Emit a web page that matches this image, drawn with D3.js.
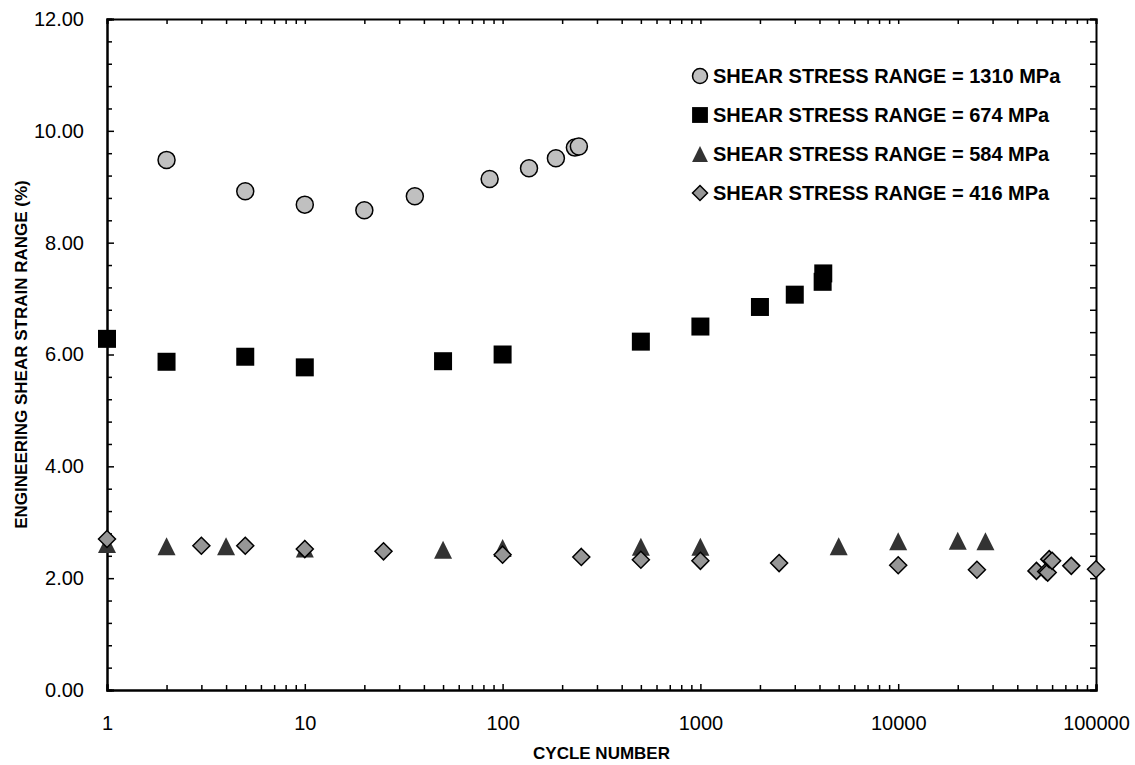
<!DOCTYPE html>
<html>
<head>
<meta charset="utf-8">
<script src="https://cdn.jsdelivr.net/npm/d3@7"></script>
<style>
  body { margin: 0; background: #fff; }
  text { font-family: "Liberation Sans", Arial, sans-serif; }
</style>
</head>
<body>
<svg id="chart"></svg>
<script>
// data: [cycle number, shear strain range %]
const series1310 = [
  [2, 9.48], [5, 8.92], [10, 8.68], [20, 8.58], [36, 8.83], [86, 9.14],
  [136, 9.33], [186, 9.51], [232, 9.70], [243, 9.72]
];
const series674 = [
  [1, 6.28], [2, 5.87], [5, 5.96], [10, 5.77], [50, 5.88], [100, 6.00],
  [500, 6.23], [1000, 6.50], [2000, 6.85], [3000, 7.07], [4150, 7.30], [4180, 7.45]
];
const series584 = [
  [1, 2.61], [2, 2.57], [4, 2.57], [10, 2.53], [50, 2.51], [100, 2.54],
  [500, 2.56], [1000, 2.56], [5000, 2.57], [10000, 2.66], [20000, 2.67], [27600, 2.66]
];
const series416 = [
  [1, 2.70], [3, 2.58], [5, 2.58], [10, 2.52], [25, 2.48], [100, 2.42],
  [250, 2.38], [500, 2.33], [1000, 2.31], [2500, 2.27], [10000, 2.23],
  [25000, 2.15], [50000, 2.13], [56000, 2.12], [57000, 2.10], [58000, 2.34],
  [60000, 2.31], [75000, 2.22], [100000, 2.16]
];
const legendLabels = [
  "SHEAR STRESS RANGE = 1310 MPa",
  "SHEAR STRESS RANGE = 674 MPa",
  "SHEAR STRESS RANGE = 584 MPa",
  "SHEAR STRESS RANGE = 416 MPa"
];
const xTicks = [1, 10, 100, 1000, 10000, 100000];
const yTicks = [0, 2, 4, 6, 8, 10, 12];

const W = 1135, H = 765;
const margin = { top: 19, right: 39, bottom: 75, left: 107 };
const width = W - margin.left - margin.right;
const height = H - margin.top - margin.bottom;

const svg = d3.select("#chart").attr("width", W).attr("height", H);
const g = svg.append("g").attr("transform", `translate(${margin.left},${margin.top})`);

const x = d3.scaleLog().domain([1, 100000]).range([0, width]);
const y = d3.scaleLinear().domain([0, 12]).range([height, 0]);

// minor tick values
const xMinor = [];
for (let p = 1; p < 100000; p *= 10) {
  for (let k = 2; k <= 9; k++) xMinor.push(p * k);
}
const yMinor = d3.range(0, 12.001, 0.4).filter((v) => Math.abs(v / 2 - Math.round(v / 2)) > 0.01);

// axes (ticks pointing inward)
const axisBottom = d3.axisBottom(x).tickValues(xTicks).tickSize(-6).tickPadding(26).tickFormat(d3.format("d"));
const axisBottomMinor = d3.axisBottom(x).tickValues(xMinor).tickSize(-5).tickFormat("");
const axisTop = d3.axisTop(x).tickValues(xTicks.concat(xMinor)).tickSize(-5).tickFormat("");
const axisLeft = d3.axisLeft(y).tickValues(yTicks).tickSize(-7).tickPadding(23).tickFormat(d3.format(".2f"));
const axisLeftMinor = d3.axisLeft(y).tickValues(yMinor).tickSize(-5).tickFormat("");
const axisRight = d3.axisRight(y).tickValues(d3.range(0, 12.001, 0.4)).tickSize(-6).tickFormat("");

function styleAxis(sel) {
  sel.select(".domain").attr("stroke", "#000").attr("stroke-width", 2);
  sel.selectAll(".tick line").attr("stroke", "#000").attr("stroke-width", 1.5);
  sel.selectAll(".tick text").attr("fill", "#000").style("font-size", "20px");
}

g.append("g").attr("transform", `translate(0,${height})`).call(axisBottomMinor).call(styleAxis);
g.append("g").attr("transform", `translate(0,${height})`).call(axisBottom).call(styleAxis);
g.append("g").call(axisTop).call(styleAxis);
g.append("g").call(axisLeftMinor).call(styleAxis);
g.append("g").call(axisLeft).call(styleAxis);
g.append("g").attr("transform", `translate(${width},0)`).call(axisRight).call(styleAxis);

// axis titles
svg.append("text")
  .attr("x", margin.left + width / 2)
  .attr("y", 759)
  .attr("text-anchor", "middle")
  .style("font-size", "17px")
  .style("font-weight", "bold")
  .text("CYCLE NUMBER");

svg.append("text")
  .attr("transform", `translate(27,${margin.top + height / 2}) rotate(-90)`)
  .attr("text-anchor", "middle")
  .style("font-size", "17px")
  .style("font-weight", "bold")
  .text("ENGINEERING SHEAR STRAIN RANGE (%)");

// marker shapes
const shapes = {
  circle: (r) => `M${r},0A${r},${r} 0 1,1 ${-r},0A${r},${r} 0 1,1 ${r},0Z`,
  square: (r) => `M${-r},${-r}H${r}V${r}H${-r}Z`,
  triangle: (r) => `M0,${-r}L${r},${r}H${-r}Z`,
  diamond: (r) => `M0,${-r}L${r},0L0,${r}L${-r},0Z`
};

const styles = [
  { data: series1310, shape: "circle", r: 8.5, fill: "#c0c0c0", stroke: "#000", sw: 1.5 },
  { data: series674, shape: "square", r: 9, fill: "#000", stroke: "none", sw: 0 },
  { data: series584, shape: "triangle", r: 9, fill: "#333333", stroke: "none", sw: 0 },
  { data: series416, shape: "diamond", r: 8.5, fill: "#969696", stroke: "#000", sw: 1.5 }
];

styles.forEach((s) => {
  g.append("g")
    .selectAll("path")
    .data(s.data)
    .join("path")
    .attr("transform", (d) => `translate(${x(d[0])},${y(d[1])})`)
    .attr("d", shapes[s.shape](s.r))
    .attr("fill", s.fill)
    .attr("stroke", s.stroke)
    .attr("stroke-width", s.sw);
});

// legend
const legend = svg.append("g").attr("transform", "translate(700,76)");
const rows = legend.selectAll("g")
  .data(styles)
  .join("g")
  .attr("transform", (d, i) => `translate(0,${i * 39})`);

rows.append("path")
  .attr("d", (d) => shapes[d.shape](d.r * 0.88))
  .attr("fill", (d) => d.fill)
  .attr("stroke", (d) => d.stroke)
  .attr("stroke-width", (d) => d.sw);

rows.append("text")
  .attr("x", 13)
  .attr("y", 7)
  .style("font-size", "20px")
  .style("font-weight", "bold")
  .text((d, i) => legendLabels[i]);
</script>
</body>
</html>
